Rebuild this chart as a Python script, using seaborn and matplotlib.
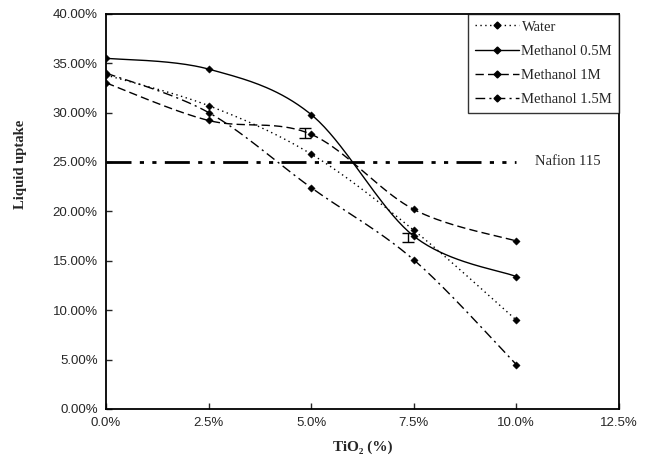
import numpy as np
import pandas as pd
import matplotlib
matplotlib.use("Agg")
import matplotlib.pyplot as plt
from matplotlib.lines import Line2D
from matplotlib.ticker import FuncFormatter
import seaborn as sns

# ---- data ----
tio2 = [0.0, 2.5, 5.0, 7.5, 10.0]
water = [33.8, 30.7, 25.8, 18.1, 9.0]
meth_05 = [35.5, 34.4, 29.8, 17.5, 13.4]
meth_1 = [33.0, 29.2, 27.8, 20.2, 17.0]
meth_15 = [34.0, 30.0, 22.4, 15.1, 4.5]
series_names = ["Water", "Methanol 0.5M", "Methanol 1M", "Methanol 1.5M"]
nafion_value = 25.0
nafion_span = [0.0, 10.0]
nafion_label = "Nafion 115"
err_x = [4.85, 7.35]
err_y = [27.9, 17.4]
err_size = [0.5, 0.45]
x_ticks = [0.0, 2.5, 5.0, 7.5, 10.0, 12.5]
y_ticks = [0, 5, 10, 15, 20, 25, 30, 35, 40]

sns.set_style("ticks")
plt.rcParams["font.family"] = ["Liberation Serif", "DejaVu Serif"]


def smooth(xs, ys, n=40):
    """Excel-like smoothed line (Catmull-Rom Bezier) through the points."""
    P = np.column_stack([xs, ys]).astype(float)
    out = []
    for i in range(len(P) - 1):
        p0 = P[i - 1] if i > 0 else P[i]
        p1 = P[i]
        p2 = P[i + 1]
        p3 = P[i + 2] if i + 2 < len(P) else P[i + 1]
        c1 = p1 + (p2 - p0) / 6.0
        c2 = p2 - (p3 - p1) / 6.0
        t = np.linspace(0, 1, n)[:, None]
        seg = ((1 - t) ** 3) * p1 + 3 * ((1 - t) ** 2) * t * c1 + 3 * (1 - t) * t ** 2 * c2 + t ** 3 * p2
        out.append(seg if i == 0 else seg[1:])
    arr = np.vstack(out)
    return arr[:, 0], arr[:, 1]


fig = plt.figure(figsize=(6.59, 4.75), dpi=100)
ax = fig.add_axes([0.161, 0.139, 0.778, 0.832])

styles = [(0, (1, 2.5)), "-", (0, (6, 3)), (0, (7, 3, 1.5, 3))]
all_series = [water, meth_05, meth_1, meth_15]
handles = []
for name, vals, ls in zip(series_names, all_series, styles):
    sx, sy = smooth(tio2, vals)
    df = pd.DataFrame({"x": sx, "y": sy})
    sns.lineplot(data=df, x="x", y="y", ax=ax, color="black", lw=1.0,
                 linestyle=ls, sort=False, estimator=None)
    pts = pd.DataFrame({"x": tio2, "y": vals})
    sns.scatterplot(data=pts, x="x", y="y", ax=ax, color="black", marker="D",
                    s=14, edgecolor="black", linewidth=0.3, zorder=5)
    handles.append(Line2D([0], [0], color="black", lw=1.0, linestyle=ls,
                          marker="D", markersize=3.5, label=name))

# Nafion 115 reference line
naf = pd.DataFrame({"x": nafion_span, "y": [nafion_value] * 2})
sns.lineplot(data=naf, x="x", y="y", ax=ax, color="black", lw=2.0,
             linestyle=(0, (9, 3, 1.5, 3, 1.5, 3)), estimator=None)
ax.text(10.45, nafion_value, nafion_label, va="center", ha="left", fontsize=10.5)

# error bars
ax.errorbar(err_x, err_y, yerr=err_size, fmt="none", ecolor="black",
            elinewidth=1.0, capsize=4, capthick=1.0)

ax.set_xlim(0, 12.5)
ax.set_ylim(0, 40)
ax.set_xticks(x_ticks)
ax.set_yticks(y_ticks)
ax.xaxis.set_major_formatter(FuncFormatter(lambda v, p: f"{v:.1f}%"))
ax.yaxis.set_major_formatter(FuncFormatter(lambda v, p: f"{v:.2f}%"))
ax.tick_params(direction="in", length=4, width=1, labelsize=9.5, pad=6)
for lab in ax.get_xticklabels() + ax.get_yticklabels():
    lab.set_family(["Liberation Sans Narrow", "Liberation Sans", "DejaVu Sans"])
ax.set_xlabel("TiO\u2082 (%)", fontsize=11, fontweight="bold")
ax.set_ylabel("Liquid uptake", fontsize=10.5, fontweight="bold")
ax.xaxis.set_label_coords(0.5, -0.08)
ax.yaxis.set_label_coords(-0.155, 0.62)
for s in ax.spines.values():
    s.set_color("black")
    s.set_linewidth(1.3)

leg = ax.legend(handles=handles, loc="upper right", fontsize=10.5,
                frameon=True, fancybox=False, edgecolor="black",
                handlelength=3.0, handletextpad=0.2, borderpad=0.45,
                labelspacing=0.75, borderaxespad=0.0)
leg.get_frame().set_linewidth(1.0)

fig.savefig("out.png", dpi=100)
